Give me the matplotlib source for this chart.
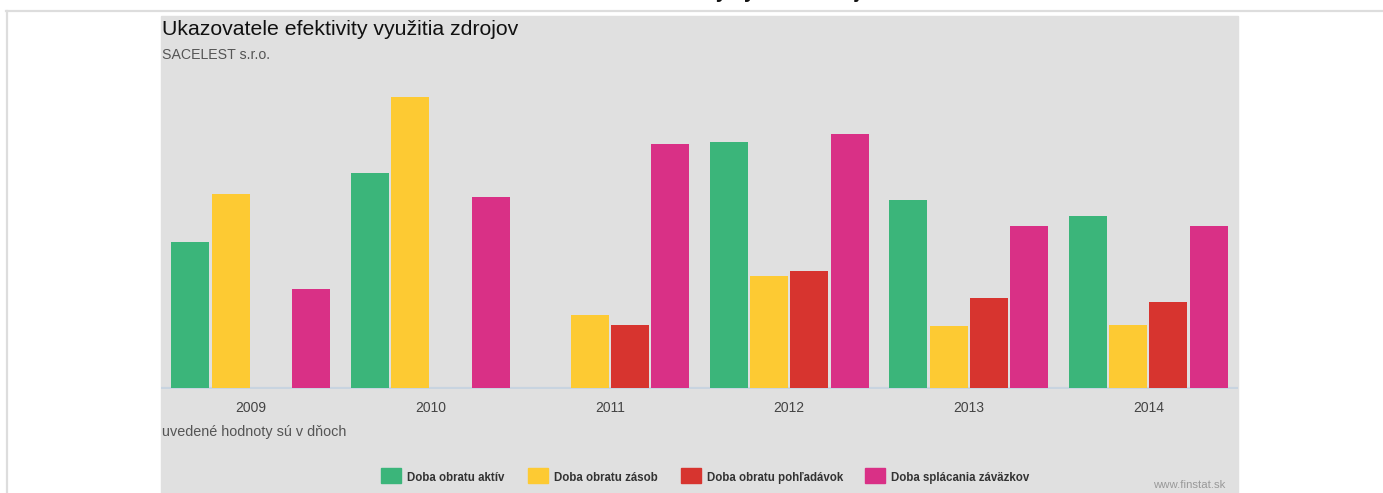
import matplotlib
matplotlib.use('Agg')
import matplotlib.pyplot as plt
from matplotlib.patches import Rectangle
from matplotlib.lines import Line2D
import numpy as np

plt.rcParams['font.family'] = ['Liberation Sans', 'DejaVu Sans']

# údaje (v dňoch, odčítané z grafu)
years = ['2009', '2010', '2011', '2012', '2013', '2014']
obrat_aktiv = [146, 216, 0, 247, 189, 172]
obrat_zasob = [195, 292, 73, 112, 62, 63]
obrat_pohladavok = [0, 0, 63, 117, 90, 86]
splacanie_zavazkov = [99, 192, 245, 255, 162, 162]

series = ['Doba obratu aktív', 'Doba obratu zásob',
          'Doba obratu pohľadávok', 'Doba splácania záväzkov']
colors = ['#3bb57a', '#fdca33', '#d7342f', '#d93086']

W, H = 1383, 493
fig = plt.figure(figsize=(W / 100, H / 100), dpi=100)
fig.patch.set_facecolor('white')

def fx(px):
    return px / W

def fy(py):
    return 1 - py / H

# rámik stránky a sivý panel
fig.add_artist(Line2D([fx(6), 1], [fy(11), fy(11)], color='#dddddd', lw=1.6))
fig.add_artist(Line2D([fx(7), fx(7)], [fy(11), 0], color='#dddddd', lw=1.6))
fig.add_artist(Rectangle((fx(161), 0), fx(1238) - fx(161), fy(16),
                         transform=fig.transFigure, color='#e0e0e0', zorder=0))

# orezaný nadpis stránky hore (viditeľné sú len dolné dotiahnutia písmen)
fig.text(fx(701), fy(-1.5), 'Ukazovatele efektivity využitia zdrojov',
         ha='center', va='baseline', fontsize=14.5, fontweight='bold', color='#111111')

ax = fig.add_axes([fx(161), fy(389), fx(1238) - fx(161), fy(16) - fy(389)])
ax.set_facecolor('none')

x = np.arange(len(years))
width = 0.212
offsets = [-0.337, -0.112, 0.112, 0.337]
data = [obrat_aktiv, obrat_zasob, obrat_pohladavok, splacanie_zavazkov]
for vals, off, c in zip(data, offsets, colors):
    ax.bar(x + off, vals, width, color=c, zorder=3)

ax.axhline(0, color='#c8d4e0', lw=1.6, zorder=2)
ax.set_xlim(-0.5, 5.5)
ax.set_ylim(-1, 373)
for s in ax.spines.values():
    s.set_visible(False)
ax.set_yticks([])
ax.set_xticks(x)
ax.set_xticklabels(years, fontsize=10, color='#444444')
ax.tick_params(axis='x', length=0, pad=8.5)

# texty
fig.text(fx(162), fy(35), 'Ukazovatele efektivity využitia zdrojov',
         fontsize=15.3, color='#111111', va='baseline')
fig.text(fx(162), fy(59), 'SACELEST s.r.o.', fontsize=10.2, color='#555555', va='baseline')
fig.text(fx(162), fy(436), 'uvedené hodnoty sú v dňoch', fontsize=10.4,
         color='#555555', va='baseline')
fig.text(fx(1225), fy(488), 'www.finstat.sk', fontsize=8.2, color='#999999',
         ha='right', va='baseline')

# legenda
leg_x = [381, 528, 681, 865]
for lx, name, c in zip(leg_x, series, colors):
    fig.add_artist(Rectangle((fx(lx), fy(483)), fx(20), 15 / H,
                             transform=fig.transFigure, color=c))
    fig.text(fx(lx + 26), fy(481), name, fontsize=8.3, fontweight='bold',
             color='#333333', va='baseline')

fig.savefig('out.png', dpi=100)
